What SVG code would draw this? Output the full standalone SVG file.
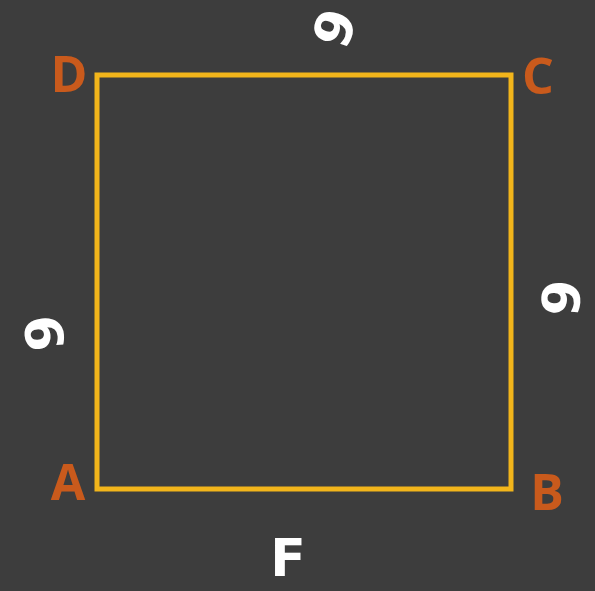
<svg xmlns="http://www.w3.org/2000/svg" width="595" height="591" viewBox="0 0 595 591">
<style>
.lbl{font-family:"Open Sans","Liberation Sans",sans-serif;font-weight:bold;font-size:50px;fill:#c95a1c;text-anchor:middle}
.hw{font-family:"DejaVu Sans","Liberation Sans",sans-serif;font-weight:bold;font-size:52px;fill:#ffffff;text-anchor:middle;dominant-baseline:central}
</style>
<rect width="595" height="591" fill="#3d3d3d"/>
<g id="edges">
<rect x="97" y="75" width="414" height="414" fill="none" stroke="#f2b51b" stroke-width="5"/>
</g>
<g id="A"><text class="lbl" x="68" y="500">A</text></g>
<g id="B"><text class="lbl" x="547" y="510">B</text></g>
<g id="C"><text class="lbl" x="538" y="94">C</text></g>
<g id="D"><text class="lbl" x="69" y="92">D</text></g>
<g id="side-top"><text class="hw" transform="translate(335,28) rotate(-70)">9</text></g>
<g id="side-right"><text class="hw" transform="translate(562,298) rotate(-85)">9</text></g>
<g id="side-left"><text class="hw" transform="translate(45,333) rotate(-95)">9</text></g>
<g id="side-bottom"><text class="hw" transform="translate(288,558)">F</text></g>
</svg>
